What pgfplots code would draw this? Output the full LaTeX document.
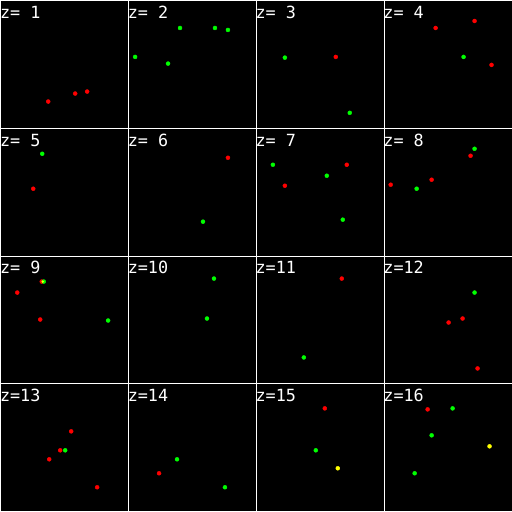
\documentclass[border=0pt]{standalone}
\usepackage{fontspec}
\usepackage{pgfplots}
\pgfplotsset{compat=1.18}
\usepgfplotslibrary{groupplots}
\newfontfamily\labfont{DejaVu Sans Mono}
\definecolor{pr}{RGB}{255,0,0}
\definecolor{pg}{RGB}{0,255,0}
\definecolor{py}{RGB}{255,255,0}

% frame (top and left white lines) and slice label
\newcommand{\zpanel}[1]{%
  \draw[white, line width=1pt] (axis cs:0.5,128) -- (axis cs:0.5,0.5) -- (axis cs:128,0.5);
  \node[anchor=base west, inner sep=0pt, text=white, font=\labfont\fontsize{16.8}{18}\selectfont] at (axis cs:-0.5,18.3) {#1};
}

\pgfplotsset{
  red pt/.style={only marks, mark=*, mark size=2pt, color=pr},
  green pt/.style={only marks, mark=*, mark size=2pt, color=pg},
  yellow pt/.style={only marks, mark=*, mark size=2pt, color=py},
}

\begin{document}
\begin{tikzpicture}
\begin{groupplot}[
    group style={group size=4 by 4, horizontal sep=0pt, vertical sep=0pt},
    width=128pt, height=128pt, scale only axis,
    xmin=0, xmax=128, ymin=0, ymax=128, y dir=reverse,
    ticks=none, axis line style={draw=none},
    axis background/.style={fill=black},
    clip=false,
]
% z = 1
\nextgroupplot
\zpanel{z=\phantom{0}1}
\addplot[red pt] coordinates {(48,101.7)(75,93.7)(87,91.7)};

% z = 2
\nextgroupplot
\zpanel{z=\phantom{0}2}
\addplot[green pt] coordinates {(52,28)(87,28)(100,30)(7,57)(40,63.7)};

% z = 3
\nextgroupplot
\zpanel{z=\phantom{0}3}
\addplot[green pt] coordinates {(29,57.7)(94,113)};
\addplot[red pt] coordinates {(80,57)};

% z = 4
\nextgroupplot
\zpanel{z=\phantom{0}4}
\addplot[red pt] coordinates {(52,28)(91,21)(108,65)};
\addplot[green pt] coordinates {(80,57)};

% z = 5
\nextgroupplot
\zpanel{z=\phantom{0}5}
\addplot[green pt] coordinates {(42,26)};
\addplot[red pt] coordinates {(33,61)};

% z = 6
\nextgroupplot
\zpanel{z=\phantom{0}6}
\addplot[red pt] coordinates {(100,30)};
\addplot[green pt] coordinates {(75,94)};

% z = 7
\nextgroupplot
\zpanel{z=\phantom{0}7}
\addplot[green pt] coordinates {(17,37)(71,48)(87,92)};
\addplot[red pt] coordinates {(91,37)(29,58)};

% z = 8
\nextgroupplot
\zpanel{z=\phantom{0}8}
\addplot[red pt] coordinates {(87,28)(48,52)(7,57)};
\addplot[green pt] coordinates {(91,21)(33,61)};

% z = 9
\nextgroupplot
\zpanel{z=\phantom{0}9}
\addplot[red pt] coordinates {(41.5,26)(17,37)(40,64)};
\addplot[green pt] coordinates {(43.5,26)(108,65)};
\addplot[yellow pt, mark size=1pt] coordinates {(42.5,26)};

% z = 10
\nextgroupplot
\zpanel{z=10}
\addplot[green pt] coordinates {(86,23)(79,63)};

% z = 11
\nextgroupplot
\zpanel{z=11}
\addplot[red pt] coordinates {(86,23)};
\addplot[green pt] coordinates {(48,102)};

% z = 12
\nextgroupplot
\zpanel{z=12}
\addplot[green pt] coordinates {(91,37)};
\addplot[red pt] coordinates {(79,63)(65,67)(94,113)};

% z = 13
\nextgroupplot
\zpanel{z=13}
\addplot[red pt] coordinates {(71,48)(60,67)(49,76)(97,104)};
\addplot[green pt] coordinates {(65,67)};

% z = 14
\nextgroupplot
\zpanel{z=14}
\addplot[green pt] coordinates {(49,76)(97,104)};
\addplot[red pt] coordinates {(31,90)};

% z = 15
\nextgroupplot
\zpanel{z=15}
\addplot[red pt] coordinates {(69,25)};
\addplot[green pt] coordinates {(60,67)};
\addplot[yellow pt] coordinates {(82,85)};

% z = 16
\nextgroupplot
\zpanel{z=16}
\addplot[red pt] coordinates {(44,26)};
\addplot[green pt] coordinates {(69,25)(48,52)(31,90)};
\addplot[yellow pt] coordinates {(106,63)};
\end{groupplot}
\end{tikzpicture}
\end{document}
